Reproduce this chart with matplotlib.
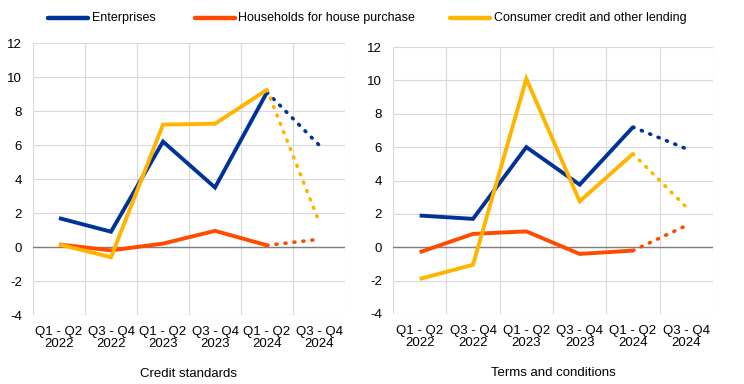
import matplotlib
matplotlib.use("Agg")
import matplotlib.pyplot as plt
from matplotlib.lines import Line2D

plt.rcParams['font.family'] = ['Liberation Sans', 'DejaVu Sans']
plt.rcParams['axes.unicode_minus'] = False

categories = ["Q1 - Q2\n2022", "Q3 - Q4\n2022", "Q1 - Q2\n2023",
              "Q3 - Q4\n2023", "Q1 - Q2\n2024", "Q3 - Q4\n2024"]
series_names = ["Enterprises", "Households for house purchase", "Consumer credit and other lending"]
colors = ["#003299", "#FF4B00", "#FFB400"]

# Credit standards (last value = expected, dotted)
cs_enterprises = [1.7, 0.9, 6.2, 3.5, 9.1, 6.0]
cs_households = [0.15, -0.2, 0.2, 0.95, 0.1, 0.45]
cs_consumer = [0.15, -0.6, 7.2, 7.25, 9.25, 1.5]

# Terms and conditions
tc_enterprises = [1.9, 1.7, 6.0, 3.75, 7.2, 5.9]
tc_households = [-0.3, 0.8, 0.95, -0.4, -0.2, 1.3]
tc_consumer = [-1.9, -1.05, 10.1, 2.75, 5.6, 2.4]

panels = [
    ("Credit standards", [cs_enterprises, cs_households, cs_consumer]),
    ("Terms and conditions", [tc_enterprises, tc_households, tc_consumer]),
]

W, H = 744, 384
fig = plt.figure(figsize=(W / 100, H / 100), dpi=100)
positions = [[33 / W, 1 - 315 / H, (345 - 33) / W, (315 - 43) / H],
             [393 / W, 1 - 314 / H, (713 - 393) / W, (314 - 47) / H]]

FS = 9.5
x = list(range(len(categories)))
for pos, (title, data) in zip(positions, panels):
    ax = fig.add_axes(pos)
    for i in range(3):
        vals = data[i]
        ax.plot(x[:5], vals[:5], color=colors[i], lw=2.8, solid_capstyle='butt',
                solid_joinstyle='miter', zorder=3 + i)
        ax.plot(x[4:], vals[4:], color=colors[i], lw=2.6, linestyle=(0, (0.3, 2.2)),
                dash_capstyle='round', zorder=3 + i)
    ax.set_xlim(-0.5, 5.5)
    ax.set_ylim(-4, 12)
    ax.set_yticks(range(-4, 13, 2))
    ax.set_xticks(x)
    ax.set_xticklabels(categories, fontsize=FS, linespacing=1.0)
    for b in [k - 0.5 for k in range(7)]:
        ax.axvline(b, color="#d9d9d9", lw=0.8, zorder=0)
    ax.grid(axis='y', color="#d9d9d9", lw=0.8, zorder=0)
    ax.axhline(0, color="#7f7f7f", lw=1.0, zorder=2)
    for s in ax.spines.values():
        s.set_visible(False)
    ax.tick_params(axis='both', length=0, labelsize=FS, colors="#000000")
    ax.tick_params(axis='x', pad=8)
    ax.tick_params(axis='y', pad=8)
    ax.set_xlabel(title, fontsize=FS, labelpad=13)

# Legend drawn manually in figure pixel coordinates
leg_y = 1 - 18 / H
leg_items = [(48, 88, 92), (195, 235, 238), (450, 490, 494)]
for (x0, x1, tx), c, name in zip(leg_items, colors, series_names):
    fig.add_artist(Line2D([x0 / W, x1 / W], [leg_y, leg_y], color=c, lw=3.2,
                          solid_capstyle='round', transform=fig.transFigure))
    fig.text(tx / W, leg_y, name, fontsize=9, va='center', ha='left')

fig.savefig("out.png", dpi=100)
